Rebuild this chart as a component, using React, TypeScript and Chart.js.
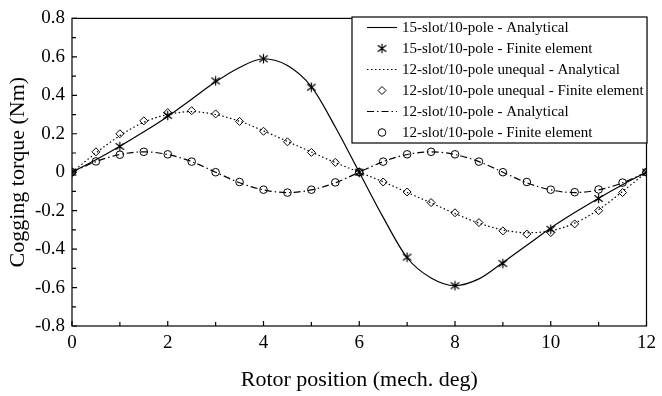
import React, { useEffect, useRef } from 'react';
import { Chart, registerables } from 'chart.js';

Chart.register(...registerables);

// ---- data ----
const xHalf = [0, 0.5, 1, 1.5, 2, 2.5, 3, 3.5, 4, 4.5, 5, 5.5, 6, 6.5, 7, 7.5, 8, 8.5, 9, 9.5, 10, 10.5, 11, 11.5, 12];
const xInt = [0, 1, 2, 3, 4, 5, 6, 7, 8, 9, 10, 11, 12];

const slot15Analytical = [0, 0.065, 0.135, 0.21, 0.29, 0.38, 0.47, 0.545, 0.59, 0.555, 0.445, 0.235, 0, -0.235, -0.445, -0.55, -0.59, -0.555, -0.47, -0.38, -0.29, -0.21, -0.135, -0.065, 0];
const slot15FE = [0, 0.134, 0.295, 0.475, 0.59, 0.442, 0, -0.442, -0.59, -0.475, -0.297, -0.137, 0];

const unequalAnalytical = [0, 0.1, 0.19, 0.26, 0.3, 0.315, 0.3, 0.265, 0.215, 0.16, 0.105, 0.05, 0, -0.05, -0.105, -0.16, -0.215, -0.265, -0.3, -0.315, -0.305, -0.265, -0.195, -0.1, 0];
const unequalFE = [0, 0.106, 0.2, 0.267, 0.31, 0.32, 0.303, 0.264, 0.213, 0.158, 0.103, 0.051, 0, -0.051, -0.103, -0.158, -0.211, -0.262, -0.305, -0.322, -0.314, -0.269, -0.2, -0.106, 0];

const equalAnalytical = [0, 0.055, 0.092, 0.106, 0.092, 0.055, 0, -0.055, -0.092, -0.106, -0.092, -0.055, 0, 0.055, 0.092, 0.106, 0.092, 0.055, 0, -0.055, -0.092, -0.106, -0.092, -0.055, 0];
const equalFE = [0, 0.056, 0.091, 0.106, 0.093, 0.055, 0, -0.051, -0.091, -0.106, -0.091, -0.053, 0, 0.055, 0.093, 0.106, 0.093, 0.055, 0, -0.051, -0.091, -0.104, -0.09, -0.054, 0];

const seriesLabels = [
  '15-slot/10-pole - Analytical',
  '15-slot/10-pole - Finite element',
  '12-slot/10-pole unequal - Analytical',
  '12-slot/10-pole unequal - Finite element',
  '12-slot/10-pole - Analytical',
  '12-slot/10-pole - Finite element',
];

const xMajorTicks = [0, 2, 4, 6, 8, 10, 12];
const xMinorTicks = [1, 3, 5, 7, 9, 11];
const yMajorTicks = [-0.8, -0.6, -0.4, -0.2, 0, 0.2, 0.4, 0.6, 0.8];
const yMinorTicks = [-0.7, -0.5, -0.3, -0.1, 0.1, 0.3, 0.5, 0.7];

const xTitle = 'Rotor position (mech. deg)';
const yTitle = 'Cogging torque (Nm)';

const FONT = "'Liberation Serif', 'Times New Roman', serif";

function pts(xs: number[], ys: number[]) {
  return xs.map((x, i) => ({ x, y: ys[i] }));
}

function makeAsterisk(): HTMLCanvasElement {
  const c = document.createElement('canvas');
  c.width = 11;
  c.height = 11;
  const g = c.getContext('2d')!;
  g.strokeStyle = '#000';
  g.lineWidth = 1.2;
  g.beginPath();
  g.moveTo(5.5, 0.8);
  g.lineTo(5.5, 10.2);
  g.moveTo(1.3, 2.3);
  g.lineTo(9.7, 8.7);
  g.moveTo(1.3, 8.7);
  g.lineTo(9.7, 2.3);
  g.stroke();
  return c;
}

export default function App() {
  const ref = useRef<HTMLCanvasElement | null>(null);

  useEffect(() => {
    document.body.style.margin = '0';
    const canvas = ref.current!;
    const asterisk = makeAsterisk();

    const frameTicks = {
      id: 'frameTicks',
      afterDatasetsDraw(chart: any) {
        const { ctx, chartArea: a, scales } = chart;
        const xs = scales.x;
        const ys = scales.y;
        ctx.save();
        ctx.strokeStyle = '#000';
        ctx.lineWidth = 1.2;
        ctx.strokeRect(a.left, a.top, a.right - a.left, a.bottom - a.top);
        ctx.beginPath();
        xMajorTicks.forEach((v) => {
          const p = xs.getPixelForValue(v);
          ctx.moveTo(p, a.bottom);
          ctx.lineTo(p, a.bottom - 5);
        });
        xMinorTicks.forEach((v) => {
          const p = xs.getPixelForValue(v);
          ctx.moveTo(p, a.bottom);
          ctx.lineTo(p, a.bottom - 4);
        });
        yMajorTicks.forEach((v) => {
          const p = ys.getPixelForValue(v);
          ctx.moveTo(a.left, p);
          ctx.lineTo(a.left + 5, p);
        });
        yMinorTicks.forEach((v) => {
          const p = ys.getPixelForValue(v);
          ctx.moveTo(a.left, p);
          ctx.lineTo(a.left + 4, p);
        });
        ctx.stroke();
        ctx.restore();
      },
    };

    const legendBox = {
      id: 'legendBox',
      afterDraw(chart: any) {
        const { ctx } = chart;
        const left = 352, top = 17, right = 647, bottom = 143;
        ctx.save();
        ctx.fillStyle = '#fff';
        ctx.fillRect(left, top, right - left, bottom - top);
        ctx.strokeStyle = '#000';
        ctx.lineWidth = 1.2;
        ctx.strokeRect(left, top, right - left, bottom - top);
        ctx.font = `15px ${FONT}`;
        ctx.textBaseline = 'middle';
        ctx.textAlign = 'left';
        chart.data.datasets.forEach((ds: any, i: number) => {
          const y = 27.5 + i * 21;
          if (ds.showLine !== false) {
            ctx.save();
            ctx.strokeStyle = '#000';
            ctx.lineWidth = 1.1;
            ctx.setLineDash(ds.borderDash || []);
            ctx.beginPath();
            ctx.moveTo(367, y);
            ctx.lineTo(397, y);
            ctx.stroke();
            ctx.restore();
          } else {
            ctx.save();
            ctx.strokeStyle = '#000';
            ctx.lineWidth = 1;
            const cx = 382;
            if (ds.pointStyle === 'rectRot') {
              const r = 4;
              ctx.beginPath();
              ctx.moveTo(cx, y - r);
              ctx.lineTo(cx + r, y);
              ctx.lineTo(cx, y + r);
              ctx.lineTo(cx - r, y);
              ctx.closePath();
              ctx.stroke();
            } else if (ds.pointStyle === 'circle') {
              ctx.beginPath();
              ctx.arc(cx, y, 3.8, 0, Math.PI * 2);
              ctx.stroke();
            } else {
              ctx.drawImage(asterisk, cx - 5.5, y - 5.5);
            }
            ctx.restore();
          }
          ctx.fillStyle = '#000';
          ctx.fillText(ds.label, 402, y + 0.5);
        });
        ctx.restore();
      },
    };

    const lineBase = {
      borderColor: '#000',
      borderWidth: 1.2,
      pointRadius: 0,
      fill: false,
      cubicInterpolationMode: 'monotone' as const,
    };
    const pointBase = {
      showLine: false,
      borderColor: '#000',
      backgroundColor: 'rgba(0,0,0,0)',
      pointBorderColor: '#000',
      pointBackgroundColor: 'rgba(0,0,0,0)',
      pointBorderWidth: 1,
    };

    const chart = new Chart(canvas, {
      type: 'line',
      data: {
        datasets: [
          { ...lineBase, label: seriesLabels[0], data: pts(xHalf, slot15Analytical), borderDash: [] },
          { ...pointBase, label: seriesLabels[1], data: pts(xInt, slot15FE), pointStyle: asterisk, pointRadius: 5 },
          { ...lineBase, label: seriesLabels[2], data: pts(xHalf, unequalAnalytical), borderDash: [1.5, 2.5] },
          { ...pointBase, label: seriesLabels[3], data: pts(xHalf, unequalFE), pointStyle: 'rectRot', pointRadius: 4 },
          { ...lineBase, label: seriesLabels[4], data: pts(xHalf, equalAnalytical), borderDash: [7, 3, 1.5, 3] },
          { ...pointBase, label: seriesLabels[5], data: pts(xHalf, equalFE), pointStyle: 'circle', pointRadius: 3.8 },
        ] as any,
      },
      options: {
        responsive: false,
        animation: false,
        events: [],
        layout: { padding: { top: 15, right: 12, left: 0, bottom: 0 } },
        plugins: { legend: { display: false }, tooltip: { enabled: false } },
        scales: {
          x: {
            type: 'linear',
            min: 0,
            max: 12,
            afterFit(s: any) { s.height = 70; },
            grid: { display: false, drawTicks: false },
            border: { display: false },
            ticks: { stepSize: 2, padding: 6, color: '#000', font: { family: FONT, size: 19 }, maxRotation: 0, autoSkip: false },
            title: { display: true, text: xTitle, color: '#000', font: { family: FONT, size: 22 }, padding: { top: 0, bottom: 3 } },
          },
          y: {
            type: 'linear',
            min: -0.8,
            max: 0.8,
            afterFit(s: any) { s.width = 72; },
            grid: { display: false, drawTicks: false },
            border: { display: false },
            ticks: {
              stepSize: 0.2,
              padding: 7,
              color: '#000',
              font: { family: FONT, size: 19 },
              callback: (v: any) => {
                const r = Math.round(Number(v) * 10) / 10;
                return r === 0 ? '0' : r.toFixed(1);
              },
            },
            title: { display: true, text: yTitle, color: '#000', font: { family: FONT, size: 22 }, padding: { top: 5, bottom: 0 } },
          },
        },
      } as any,
      plugins: [frameTicks, legendBox],
    });

    return () => chart.destroy();
  }, []);

  return (
    <div style={{ position: 'absolute', left: 0, top: 0, width: 662, height: 396, background: '#fff' }}>
      <canvas ref={ref} width={662} height={396} style={{ display: 'block', width: 662, height: 396 }} />
    </div>
  );
}
